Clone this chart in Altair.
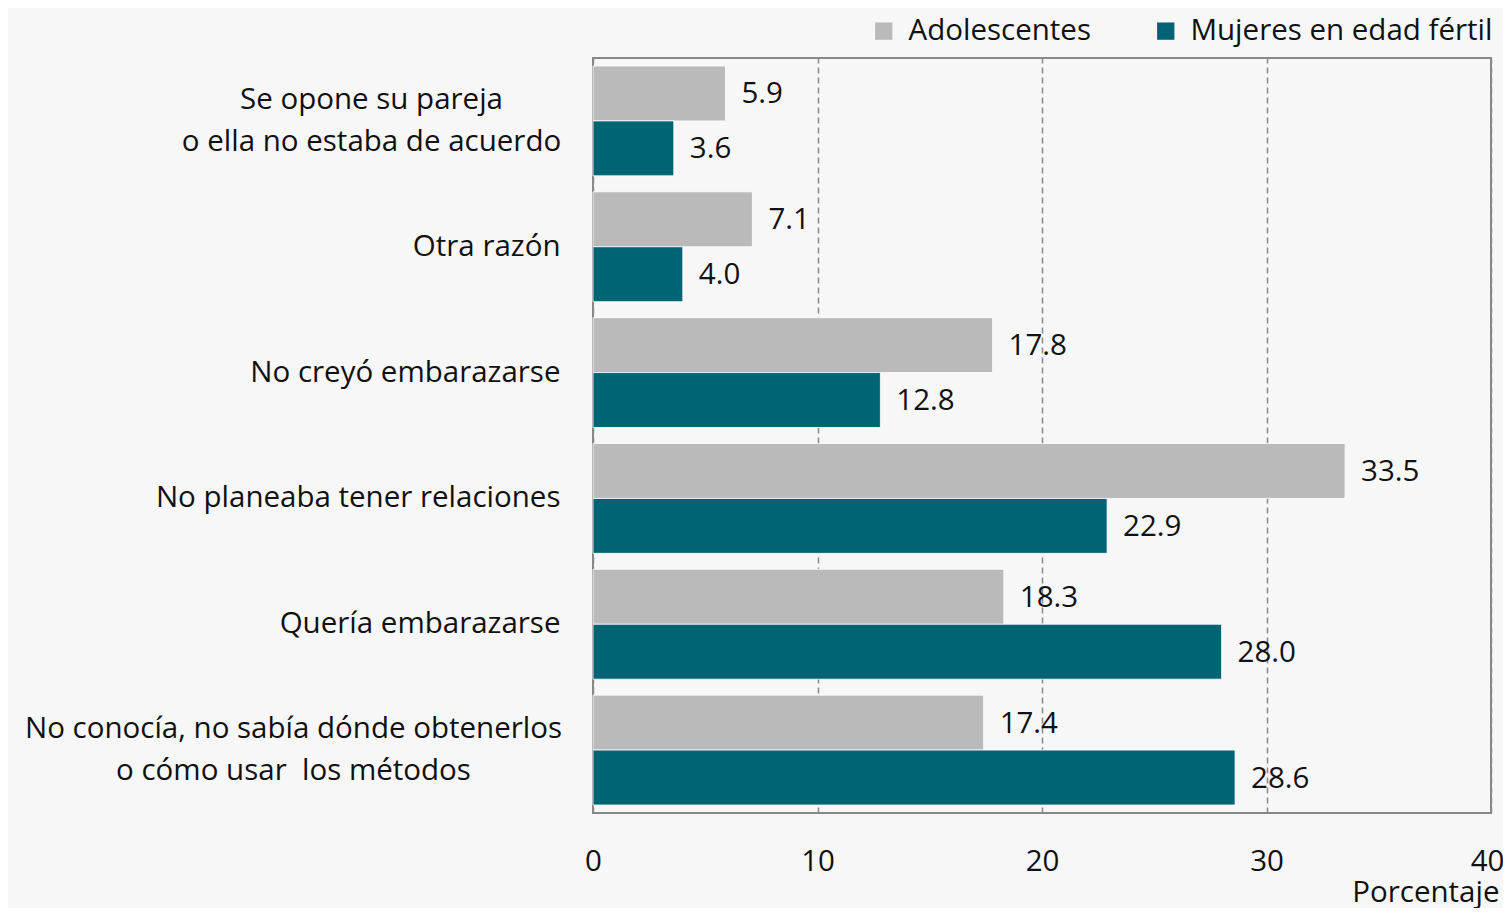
import altair as alt
import pandas as pd

categories = [
    "Se opone su pareja|o ella no estaba de acuerdo",
    "Otra razón",
    "No creyó embarazarse",
    "No planeaba tener relaciones",
    "Quería embarazarse",
    "No conocía, no sabía dónde obtenerlos|o cómo usar\u00a0 los métodos",
]
series = ["Adolescentes", "Mujeres en edad fértil"]
adolescentes = [5.9, 7.1, 17.8, 33.5, 18.3, 17.4]
mujeres = [3.6, 4.0, 12.8, 22.9, 28.0, 28.6]
x_ticks = [0, 10, 20, 30, 40]

rows = []
for c, a, m in zip(categories, adolescentes, mujeres):
    rows.append({"cat": c, "serie": series[0], "val": a})
    rows.append({"cat": c, "serie": series[1], "val": m})
df = pd.DataFrame(rows)

FONT = "Open Sans"
FS = 29.5
colors = ["#bababa", "#006475"]

two_line = "indexof(datum.value, '|') >= 0"
first_cat = "indexof(datum.value, 'pareja') >= 0"

y = alt.Y("cat:N", sort=categories,
          scale=alt.Scale(paddingInner=0.127, paddingOuter=0.0635),
          axis=alt.Axis(title=None, labelExpr="split(datum.label, '|')",
                        labelFontSize=FS, labelFont=FONT, labelColor="#111",
                        labelAlign={"condition": {"test": two_line, "value": "center"}, "value": "right"},
                        labelPadding={"condition": [
                            {"test": first_cat, "value": 222},
                            {"test": two_line, "value": 300}], "value": 33},
                        labelOffset={"condition": {"test": two_line, "value": -21}, "value": 0},
                        ticks=False, domain=False,
                        labelLineHeight=42, labelLimit=700))
yoff = alt.YOffset("serie:N", sort=series, scale=alt.Scale(paddingInner=0, paddingOuter=0))
x = alt.X("val:Q", scale=alt.Scale(domain=[0, 40], nice=False),
          axis=alt.Axis(values=x_ticks, title="Porcentaje",
                        titleFont=FONT, titleFontSize=FS,
                        titleFontWeight="normal", titleColor="#111",
                        titleX=906, titleY=88, titleAlign="right",
                        titleBaseline="alphabetic", titleAnchor="end",
                        labelFont=FONT, labelFontSize=FS, labelColor="#111",
                        labelFlush=False, labelPadding=34, ticks=False,
                        labelOffset={"condition": {"test": "datum.value >= 40", "value": -4}, "value": 0},
                        domain=False,
                        grid=True, gridDash=[6, 4], gridColor="#888", gridWidth=1.5))

bars = alt.Chart(df).mark_bar(stroke="white", strokeWidth=0.8).encode(
    x=x, y=y, yOffset=yoff,
    color=alt.Color("serie:N", sort=series,
                    scale=alt.Scale(domain=series, range=colors),
                    legend=alt.Legend(title=None, orient="none", direction="horizontal",
                                      legendX=276, legendY=-42,
                                      symbolType="square", symbolSize=300,
                                      symbolStrokeWidth=0, labelFont=FONT,
                                      labelFontSize=FS, labelColor="#111",
                                      columnPadding=60, labelOffset=10,
                                      labelLimit=500)),
)
labels = alt.Chart(df).mark_text(align="left", baseline="middle", dx=16, dy=1,
                                 font=FONT, fontSize=FS, color="#111").encode(
    x="val:Q", y=alt.Y("cat:N", sort=categories), yOffset=alt.YOffset("serie:N", sort=series),
    text=alt.Text("val:Q", format=".1f"),
)

chart = (bars + labels).properties(
    width=898, height=755,
    autosize=alt.AutoSizeParams(type="none"),
    padding={"left": 585, "top": 50, "right": 12, "bottom": 95},
    background="#f7f7f7",
).configure_view(stroke="#888", strokeWidth=2)

chart.save("out.html", embed_options={"renderer": "svg", "actions": False})
